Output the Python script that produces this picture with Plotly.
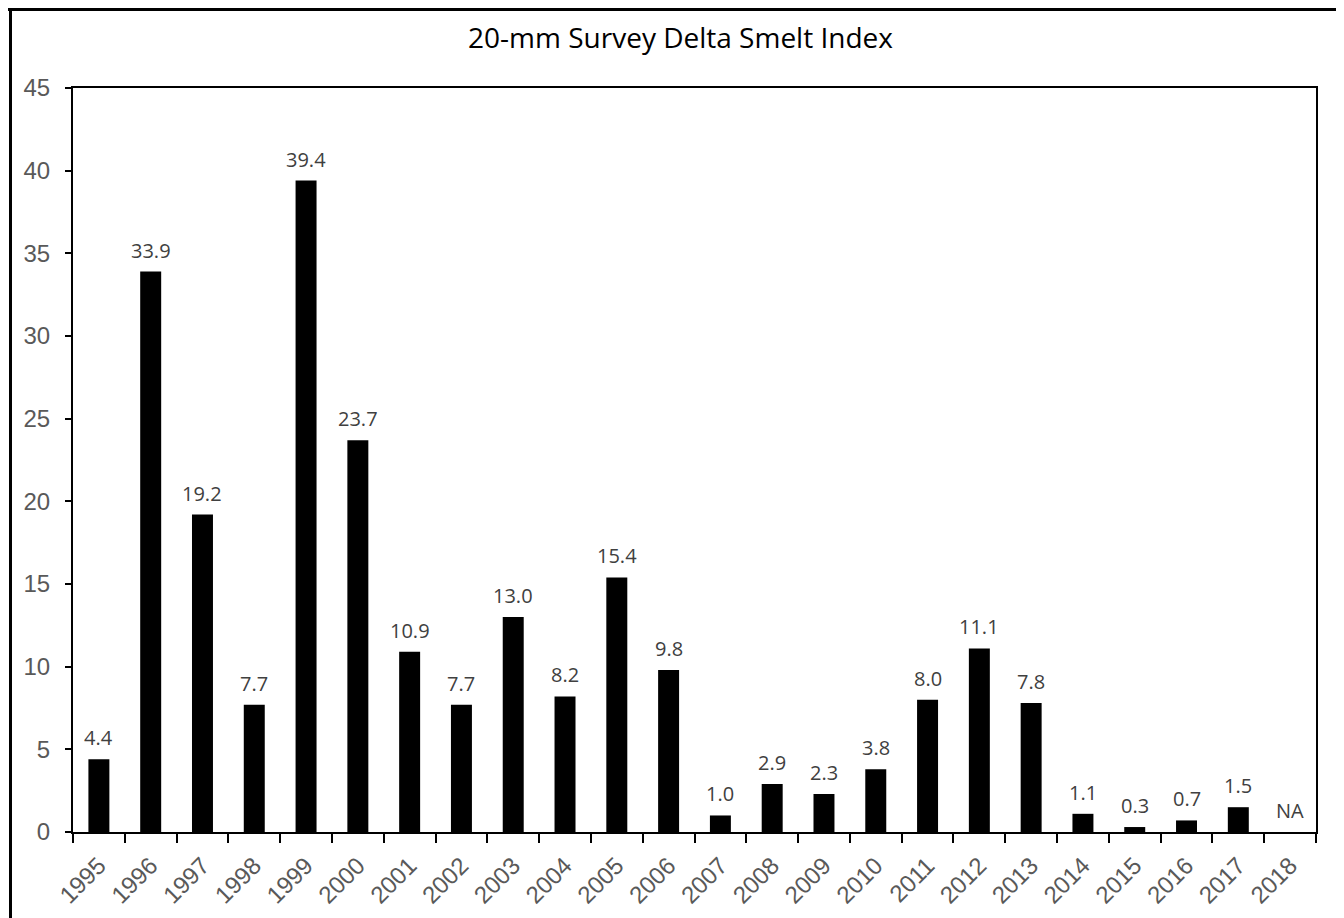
import plotly.graph_objects as go

years = [str(y) for y in range(1995, 2019)]
values = [4.4, 33.9, 19.2, 7.7, 39.4, 23.7, 10.9, 7.7, 13.0, 8.2, 15.4, 9.8,
          1.0, 2.9, 2.3, 3.8, 8.0, 11.1, 7.8, 1.1, 0.3, 0.7, 1.5, 0]
labels = ["4.4", "33.9", "19.2", "7.7", "39.4", "23.7", "10.9", "7.7", "13.0", "8.2", "15.4", "9.8",
          "1.0", "2.9", "2.3", "3.8", "8.0", "11.1", "7.8", "1.1", "0.3", "0.7", "1.5", "NA"]
title = "20-mm Survey Delta Smelt Index"

FW, FH = 1336, 910
L, R, T, B = 65, 28, 80, 86
PW, PH = FW - L - R, FH - T - B

def px_x(px):
    return (px - L) / PW

def px_y(py):
    return (FH - B - py) / PH

fig = go.Figure(go.Bar(
    x=years, y=values,
    marker=dict(color="black", line=dict(width=0)),
    hoverinfo="x+y",
))

# category index positions on the category axis
annotations = [
    dict(x=i, y=v, xref="x", yref="y", text=lab, showarrow=False,
         yanchor="bottom", yshift=7, borderpad=0,
         font=dict(family="Open Sans", size=20, color="#404040"))
    for i, (v, lab) in enumerate(zip(values, labels))
]

fig.update_layout(
    width=FW, height=FH,
    margin=dict(l=L, r=R, t=T, b=B, autoexpand=False),
    paper_bgcolor="white", plot_bgcolor="white",
    bargap=0.595,
    showlegend=False,
    title=dict(text=title, x=672.5 / FW, xanchor="center", y=1 - 30 / FH, yanchor="middle",
               font=dict(family="Open Sans", size=28, color="black")),
    annotations=annotations,
    shapes=[
        dict(type="line", xref="paper", yref="paper", x0=px_x(0), x1=px_x(1336),
             y0=px_y(1.5), y1=px_y(1.5), line=dict(color="black", width=3)),
        dict(type="line", xref="paper", yref="paper", x0=px_x(2.5), x1=px_x(2.5),
             y0=px_y(0), y1=px_y(FH), line=dict(color="black", width=3)),
    ],
)

fig.update_xaxes(
    type="category", tickson="boundaries", ticks="outside", ticklen=9, tickwidth=2,
    tickcolor="black", showline=True, linecolor="black", linewidth=2, mirror=True,
    tickangle=-45, ticklabelstandoff=8, automargin=False,
    tickfont=dict(family="Liberation Sans", size=24, color="#595959"),
    showgrid=False, range=[-0.5, len(years) - 0.5],
)
fig.update_yaxes(
    range=[0, 45], dtick=5, ticks="outside", ticklen=6, tickwidth=2, tickcolor="black",
    showline=True, linecolor="black", linewidth=2, mirror=True,
    ticklabelstandoff=10, automargin=False,
    tickfont=dict(family="Liberation Sans", size=24, color="#595959"),
    showgrid=False, zeroline=False,
)

fig.write_html("out.html")
